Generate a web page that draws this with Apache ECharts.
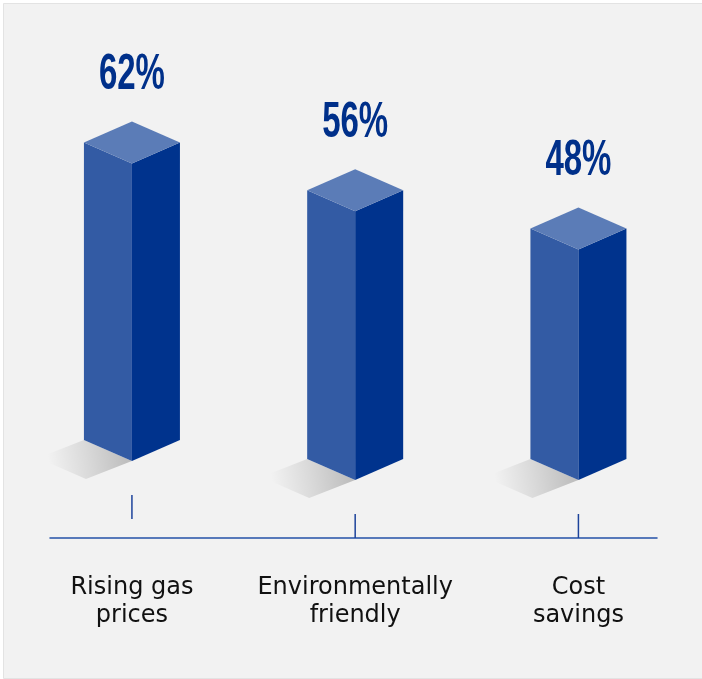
<!DOCTYPE html>
<html>
<head>
<meta charset="utf-8">
<title>Reasons for considering an electric vehicle</title>
<script src="https://cdn.jsdelivr.net/npm/echarts@6/dist/echarts.min.js"></script>
<style>
  html, body { margin: 0; padding: 0; background: #ffffff; }
  #chart { width: 702px; height: 679px; }
</style>
</head>
<body>
<div id="chart"></div>
<script>
// Survey answers, one column per reason
const categories = ['Rising gas\nprices', 'Environmentally\nfriendly', 'Cost\nsavings'];
const shares = [62, 56, 48];
const shareLabels = ['62%', '56%', '48%'];

// Drawing constants for the isometric columns
const FRONT = '#335ba4';
const SIDE = '#00338d';
const TOP = '#5b7cb7';
const INK = '#00308a';
const HALF_W = 48;     // half the column footprint, px
const DEPTH = 21;      // vertical drop of the top face edges, px
const columnRaise = [19, 0, 0]; // first column sits a little higher on the page

const chart = echarts.init(document.getElementById('chart'), null, { renderer: 'canvas' });

function renderColumn(params, api) {
  const i = params.dataIndex;
  const lift = columnRaise[i] || 0;
  const top = api.coord([api.value(0), api.value(1)]);
  const base = api.coord([api.value(0), 0]);
  const cx = top[0];
  const yv = top[1] - lift;
  const y0 = base[1] - lift;
  const w = HALF_W, d = DEPTH;

  const shadow = {
    type: 'polygon',
    shape: { points: [[cx - w, y0 - d], [cx, y0], [cx - 46, y0 + 18], [cx - w - 46, y0 - d + 18]] },
    style: {
      fill: new echarts.graphic.LinearGradient(cx - 6, y0 - 2, cx - 82, y0 + 10, [
        { offset: 0, color: 'rgba(0,0,0,0.21)' },
        { offset: 0.5, color: 'rgba(0,0,0,0.1)' },
        { offset: 1, color: 'rgba(0,0,0,0)' }
      ], true)
    },
    silent: true
  };
  const front = {
    type: 'polygon',
    shape: { points: [[cx - w, yv - d], [cx, yv], [cx, y0], [cx - w, y0 - d]] },
    style: { fill: FRONT }
  };
  const side = {
    type: 'polygon',
    shape: { points: [[cx, yv], [cx + w, yv - d], [cx + w, y0 - d], [cx, y0]] },
    style: { fill: SIDE }
  };
  const lid = {
    type: 'polygon',
    shape: { points: [[cx, yv - 2 * d], [cx + w, yv - d], [cx, yv], [cx - w, yv - d]] },
    style: { fill: TOP }
  };
  const tick = {
    type: 'line',
    shape: { x1: cx, y1: y0 + 34, x2: cx, y2: y0 + 58 },
    style: { stroke: '#1d439b', lineWidth: 1.5 }
  };
  const label = {
    type: 'text',
    x: cx,
    y: yv - 2 * d - 46,
    scaleX: 0.66,
    style: {
      text: shareLabels[i],
      font: 'bold 50px "Liberation Sans", Arial, sans-serif',
      fill: INK,
      align: 'center',
      verticalAlign: 'middle'
    }
  };
  return { type: 'group', children: [shadow, front, side, lid, tick, label] };
}

chart.setOption({
  backgroundColor: '#ffffff',
  animation: false,
  graphic: [{
    type: 'rect',
    z: -10,
    shape: { x: 3.5, y: 3.5, width: 699, height: 675 },
    style: { fill: '#f2f2f2', stroke: '#e3e3e3', lineWidth: 1 },
    silent: true
  }],
  grid: { left: 50, right: 45, top: 0, bottom: 199, containLabel: false },
  xAxis: {
    type: 'value',
    min: -0.367,
    max: 2.352,
    offset: 58,
    splitLine: { show: false },
    axisTick: { show: false },
    axisLine: { show: true, onZero: false, lineStyle: { color: '#2452a8', width: 1.5 } },
    axisLabel: {
      customValues: [0, 1, 2],
      formatter: function (v) { return categories[Math.round(v)]; },
      margin: 36,
      fontFamily: '"DejaVu Sans", sans-serif',
      fontSize: 24,
      lineHeight: 28,
      color: '#111111',
      align: 'center'
    }
  },
  yAxis: { type: 'value', min: 0, max: 100, show: false },
  series: [{
    type: 'custom',
    renderItem: renderColumn,
    clip: false,
    data: shares.map(function (v, i) { return [i, v]; }),
    encode: { x: 0, y: 1 }
  }]
});
</script>
</body>
</html>
